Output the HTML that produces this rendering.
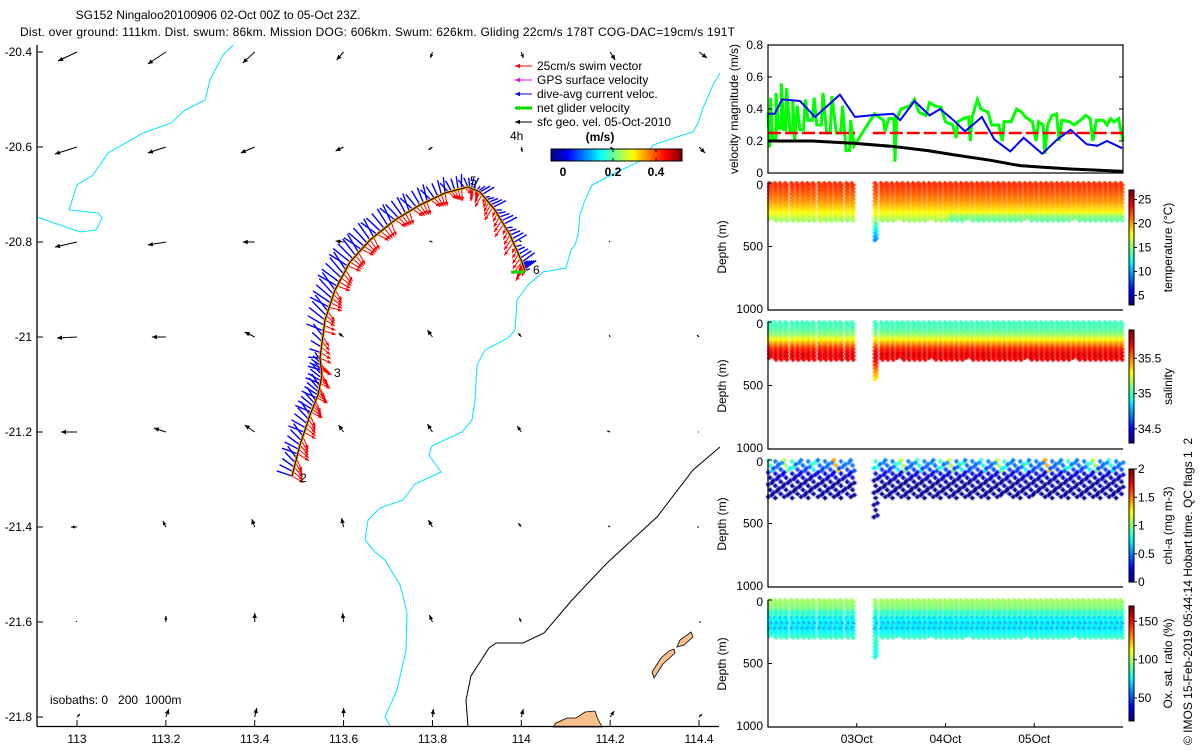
<!DOCTYPE html>
<html><head><meta charset="utf-8"><style>
body{margin:0;background:#fff;width:1200px;height:750px;overflow:hidden;position:relative;font-family:"Liberation Sans",sans-serif}
svg{position:absolute;left:0;top:0}
canvas{position:absolute;left:0;top:0}
text{font-family:"Liberation Sans",sans-serif;font-size:12px;fill:#000}
</style></head><body>
<canvas id="sc" width="1200" height="750"></canvas>
<svg id="s" width="1200" height="750">
<text x="218" y="19" text-anchor="middle">SG152 Ningaloo20100906 02-Oct 00Z to 05-Oct 23Z.</text>
<text x="20" y="36" textLength="715">Dist. over ground: 111km. Dist. swum: 86km. Mission DOG: 606km. Swum: 626km. Gliding 22cm/s 178T COG-DAC=19cm/s 191T</text>
<text x="50" y="704" xml:space="preserve">isobaths: 0   200  1000m</text>
<text transform="translate(1192,745) rotate(-90)" xml:space="preserve">© IMOS 15-Feb-2019 05:44:14 Hobart time. QC flags 1  2</text>
</svg>
<script>
// ---------- map data ----------
const gridLons=[113,113.2,113.4,113.6,113.8,114,114.2,114.4];
const gridLats=[-20.4,-20.6,-20.8,-21.0,-21.2,-21.4,-21.6,-21.8];
const geoU=[[-19,-18,-12,-7,-2,2,5,8],[-22,-18,-14,-8,-4,1,3,6],[-22,-18,-12,-8,-3,-2,-1,0],[-20,-14,-10,-5,-5,-3,-1,-2],[-16,-12,-10,-5,-5,-4,-3,-1],[-6,-3,-3,-2,-4,-3,-2,-2],[-1,0,0,-1,-3,-2,0,2],[3,3,2,0,1,2,4,3]];
const geoV=[[9,12,11,8,6,6,8,6],[7,6,6,4,3,5,2,6],[5,3,0,-1,-1,-2,-1,0],[1,0,-5,-4,-7,-4,-2,-2],[0,-4,-7,-7,-8,-6,-1,0],[0,-6,-8,-9,-7,-4,-1,0],[-1,-6,-9,-9,-7,-4,0,0],[-3,-8,-9,-9,-8,-8,-6,-3]];
const xTicks=[113,113.2,113.4,113.6,113.8,114,114.2,114.4];
const yTicks=[-20.4,-20.6,-20.8,-21,-21.2,-21.4,-21.6,-21.8];
function X(lon){return 77+(lon-113)*444.3;}
function Y(lat){return 52+(-20.4-lat)*475;}
function LON(x){return 113+(x-77)/444.3;}
function LAT(y){return -20.4-(y-52)/475;}
const coast1=[[233,45],[223,55],[210,80],[205,100],[185,110],[171,123],[143,133],[108,153],[93,175],[77,185],[69,210],[98,213],[102,218],[96,230],[80,232],[37,217]].map(p=>[LON(p[0]),LAT(p[1])]);
const coast2=[[720,73],[713,85],[703,108],[698,123],[693,132],[683,135],[653,145],[642,160],[617,172],[592,185],[585,200],[580,215],[578,235],[575,245],[571,250],[566,268],[543,272],[528,285],[517,300],[515,330],[508,338],[485,350],[477,365],[475,400],[472,420],[462,432],[432,446],[429,455],[441,472],[415,484],[403,500],[380,508],[368,520],[365,540],[375,552],[385,560],[400,585],[404,600],[407,614],[406,650],[397,690],[385,717],[391,727]].map(p=>[LON(p[0]),LAT(p[1])]);
const iso1000=[[720,447],[693,470],[657,517],[607,563],[572,600],[544,633],[523,643],[496,643],[489,648],[471,676],[466,700],[468,726]].map(p=>[LON(p[0]),LAT(p[1])]);
const islands=[
 [[691,632],[693,637],[684,645],[677,647],[680,640]],
 [[674,649],[675,653],[663,664],[654,678],[652,672],[661,658],[669,651]],
 [[553,727],[556,723],[567,718],[576,718],[585,712],[595,711],[597,717],[602,727]]
].map(a=>a.map(p=>[LON(p[0]),LAT(p[1])]));
const trackPx=[[292,476],[300,445],[310,415],[318,395],[322,375],[320,358],[325,320],[335,290],[350,262],[370,240],[395,220],[420,205],[445,193],[468,187],[480,192],[495,210],[510,235],[522,262],[525,272]];
const trackLon=trackPx.map(p=>LON(p[0]));
const trackLat=trackPx.map(p=>LAT(p[1]));
const curU=[-0.28,-0.3,-0.3,-0.28,-0.26,-0.2,-0.38,-0.38,-0.36,-0.32,-0.28,-0.2,-0.12,-0.06,0.2,0.24,0.24,0.22,0.2];
const curV=[-0.2,-0.22,-0.24,-0.24,-0.2,-0.1,-0.3,-0.34,-0.36,-0.36,-0.36,-0.34,-0.3,-0.26,-0.1,-0.08,-0.1,-0.14,-0.12];
const swimU=[0.22,0.22,0.22,0.2,0.18,0.22,0.26,0.26,0.26,0.24,0.2,0.18,0.14,0.1,-0.1,-0.14,-0.16,-0.16,-0.14];
const swimV=[0.26,0.26,0.24,0.22,0.2,0.22,0.16,0.2,0.22,0.24,0.26,0.26,0.26,0.24,0.24,0.26,0.26,0.24,0.22];

// ---------- time series data ----------
const blueT=[0,0.075,0.16,0.36,0.53,0.81,0.98,1.15,1.41,1.49,1.65,1.82,1.94,2.09,2.22,2.41,2.55,2.73,2.88,3.09,3.26,3.41,3.59,3.71,3.82,3.99];
const blueV=[0.37,0.37,0.46,0.45,0.35,0.49,0.35,0.36,0.37,0.33,0.45,0.36,0.40,0.33,0.26,0.35,0.21,0.135,0.22,0.12,0.21,0.27,0.18,0.17,0.20,0.155];
const blackT=[0,0.5,0.98,1.41,1.8,2.09,2.5,2.84,3.1,3.41,3.7,4.0];
const blackV=[0.2,0.2,0.185,0.166,0.14,0.114,0.08,0.046,0.036,0.025,0.018,0.01];
const greenT=[0,0.02,0.03,0.05,0.09,0.09,0.12,0.15,0.15,0.18,0.2,0.21,0.25,0.28,0.28,0.3,0.33,0.36,0.4,0.42,0.45,0.5,0.52,0.55,0.6,0.62,0.66,0.7,0.72,0.77,0.82,0.84,0.88,0.92,0.93,0.97,1.2,1.22,1.3,1.32,1.36,1.42,1.43,1.45,1.5,1.6,1.65,1.7,1.78,1.82,1.88,1.95,2.0,2.08,2.12,2.14,2.2,2.26,2.28,2.3,2.36,2.4,2.48,2.52,2.6,2.64,2.66,2.74,2.8,2.86,2.9,2.98,3.02,3.05,3.1,3.12,3.15,3.2,3.25,3.28,3.31,3.4,3.45,3.52,3.58,3.63,3.66,3.7,3.78,3.82,3.86,3.9,3.95,4.0];
const greenV=[0.38,0.16,0.47,0.21,0.21,0.5,0.28,0.28,0.56,0.27,0.27,0.53,0.25,0.25,0.45,0.2,0.42,0.27,0.27,0.46,0.33,0.33,0.47,0.3,0.3,0.5,0.25,0.25,0.48,0.25,0.25,0.42,0.14,0.14,0.33,0.17,0.37,0.36,0.33,0.26,0.34,0.34,0.07,0.34,0.4,0.42,0.46,0.38,0.36,0.44,0.42,0.41,0.32,0.3,0.22,0.32,0.34,0.35,0.2,0.35,0.46,0.4,0.38,0.3,0.3,0.2,0.32,0.32,0.4,0.38,0.35,0.32,0.2,0.32,0.3,0.12,0.3,0.36,0.37,0.2,0.33,0.32,0.3,0.33,0.36,0.34,0.2,0.33,0.33,0.3,0.34,0.32,0.34,0.2];
const swimSpeed=0.25;
const velTicks=[0,0.2,0.4,0.6,0.8];
const dateTicks=[1,2,3];
const dateLabels=["03Oct","04Oct","05Oct"];

// ---------- profile data ----------
const diveT=[0.02,0.08,0.14,0.2,0.27,0.33,0.39,0.45,0.51,0.58,0.64,0.70,0.76,0.82,0.89,0.95,1.21,1.28,1.34,1.40,1.46,1.52,1.58,1.64,1.70,1.76,1.82,1.88,1.94,2.0,2.06,2.12,2.18,2.24,2.30,2.36,2.42,2.48,2.54,2.60,2.66,2.72,2.78,2.84,2.90,2.96,3.02,3.08,3.14,3.20,3.26,3.32,3.38,3.44,3.50,3.56,3.62,3.68,3.74,3.80,3.86,3.92,3.98];
const diveMax=[290,300,295,300,300,295,300,300,295,300,300,300,295,300,300,300,460,300,295,300,290,300,300,295,300,300,290,300,300,295,300,300,300,290,300,300,295,300,300,300,295,300,300,300,290,300,295,300,300,300,295,300,300,290,300,300,295,300,300,300,295,300,300];
const profDepth=[0,50,100,150,200,250,300,350,400,460];
const tempProf=[23,22.5,21.5,20.5,19,17.5,15.5,13,11,9];
const salProf=[35.0,35.02,35.12,35.35,35.6,35.75,35.72,35.6,35.45,35.3];
const oxProf=[100,97,88,78,74,76,86,82,80,78];
const chlProf=[0.5,0.45,0.2,0.06,0.05,0.05,0.04,0.04,0.04,0.04];
const tempRange=[3,27], salRange=[34.3,35.9], chlRange=[0,2], oxRange=[20,170];

// ---------- helpers ----------
const S=document.getElementById('s');
const NS='http://www.w3.org/2000/svg';
function el(tag,attrs,parent){const e=document.createElementNS(NS,tag);for(const k in attrs)e.setAttribute(k,attrs[k]);(parent||S).appendChild(e);return e;}
function jet(v){v=Math.max(0,Math.min(1,v));const r=Math.max(0,Math.min(1,1.5-Math.abs(4*v-3))),g=Math.max(0,Math.min(1,1.5-Math.abs(4*v-2))),b=Math.max(0,Math.min(1,1.5-Math.abs(4*v-1)));return `rgb(${Math.round(r*255)},${Math.round(g*255)},${Math.round(b*255)})`;}
function interp(xs,ys,x){if(x<=xs[0])return ys[0];for(let i=1;i<xs.length;i++){if(x<=xs[i]){const f=(x-xs[i-1])/(xs[i]-xs[i-1]);return ys[i-1]+f*(ys[i]-ys[i-1]);}}return ys[ys.length-1];}
function pts(arr){return arr.map(p=>X(p[0]).toFixed(1)+','+Y(p[1]).toFixed(1)).join(' ');}

// ---------- map ----------
const mapG=el('g',{});


let e=el('polyline',{points:pts(coast1),fill:'none',stroke:'#00e5ff','stroke-width':1},mapG);

e=el('polyline',{points:pts(coast2),fill:'none',stroke:'#00e5ff','stroke-width':1},mapG);

e=el('polyline',{points:pts(iso1000),fill:'none',stroke:'#000','stroke-width':1},mapG);

islands.forEach(a=>{const p=el('polygon',{points:pts(a),fill:'#f8c08c',stroke:'#000','stroke-width':0.8},mapG);
});
function arrow(x1,y1,x2,y2,col,w,hs,parent){
  const l=el('line',{x1:x1,y1:y1,x2:x2,y2:y2,stroke:col,'stroke-width':w},parent);
  const dx=x2-x1,dy=y2-y1,L=Math.hypot(dx,dy)||1,ux=dx/L,uy=dy/L;
  const h=Math.min(hs,L*0.6);
  el('polygon',{points:`${x2},${y2} ${x2-ux*h-uy*h*0.45},${y2-uy*h+ux*h*0.45} ${x2-ux*h+uy*h*0.45},${y2-uy*h-ux*h*0.45}`,fill:col},parent);
  return l;
}
for(let r=0;r<gridLats.length;r++)for(let c=0;c<gridLons.length;c++){
  const x=X(gridLons[c]),y=Y(gridLats[r]);
  const g=el('g',{},mapG);
  
  
  arrow(x,y,x+geoU[r][c],y+geoV[r][c],'#000',1,5,g);
}
const trkG=el('g',{},mapG);


const SC=42;
for(let i=0;i<trackLon.length-1;i++){
  for(let k=0;k<7;k++){
    const f=k/7;
    const lon=trackLon[i]+f*(trackLon[i+1]-trackLon[i]), lat=trackLat[i]+f*(trackLat[i+1]-trackLat[i]);
    const x=X(lon),y=Y(lat);
    const cu=curU[i]+f*(curU[i+1]-curU[i]), cv=curV[i]+f*(curV[i+1]-curV[i]);
    const su=swimU[i]+f*(swimU[i+1]-swimU[i]), sv=swimV[i]+f*(swimV[i+1]-swimV[i]);
    const j=((i*7+k)%5-2)*0.04;
    const b=el('line',{x1:x,y1:y,x2:x+(cu+j)*SC,y2:y+(cv-j)*SC,stroke:'#0000ff','stroke-width':1.4},trkG);
    
    const a=arrow(x,y,x+(su-j)*SC*0.9,y+(sv+j)*SC*0.9,'#ff0000',1,4,trkG);
    
  }
}
e=el('polyline',{points:trackLon.map((l,i)=>X(l)+','+Y(trackLat[i])).join(' '),fill:'none',stroke:'#ffa500','stroke-width':3},trkG);

e=el('polyline',{points:trackLon.map((l,i)=>X(l)+','+Y(trackLat[i])).join(' '),fill:'none',stroke:'#000','stroke-width':1},trkG);

e=el('line',{x1:X(trackLon[18])-14,y1:Y(trackLat[18]),x2:X(trackLon[18]),y2:Y(trackLat[18]),stroke:'#00dd00','stroke-width':3},trkG);

[['2',0,8,6],['3',4,12,2],['5',13,2,-2],['6',18,8,2]].forEach(m=>{
  const t=el('text',{x:X(trackLon[m[1]])+m[2],y:Y(trackLat[m[1]])+m[3]},trkG);t.textContent=m[0];
  
});
e=el('line',{x1:37,y1:45,x2:37,y2:726.5,stroke:'#000','stroke-width':1.3},mapG);

e=el('line',{x1:37,y1:726.5,x2:719,y2:726.5,stroke:'#000','stroke-width':1.3},mapG);

xTicks.forEach(v=>{const x=X(v);el('line',{x1:x,y1:726,x2:x,y2:720,stroke:'#000'},mapG);
 const t=el('text',{x:x,y:743,'text-anchor':'middle'},mapG);t.textContent=String(v);
 });
yTicks.forEach(v=>{const y=Y(v);el('line',{x1:37,y1:y,x2:43,y2:y,stroke:'#000'},mapG);
 const t=el('text',{x:32,y:y+4,'text-anchor':'end'},mapG);t.textContent=String(v);
 });
const lg=el('g',{},mapG);

const legItems=[['25cm/s swim vector','#ff0000',1],['GPS surface velocity','#ff00ff',1],['dive-avg current veloc.','#0000ff',1],['net glider velocity','#00dd00',3],['sfc geo. vel. 05-Oct-2010','#000',1]];
legItems.forEach((it,i)=>{const y=70+i*14;
 arrow(532,y-4,515,y-4,it[1],it[2],5,lg);
 const t=el('text',{x:537,y:y},lg);t.textContent=it[0];
 });
e=el('text',{x:510,y:140},lg);e.textContent='4h';
e=el('text',{x:600,y:141,'font-weight':'bold','text-anchor':'middle'},lg);e.textContent='(m/s)';

for(let i=0;i<64;i++){el('rect',{x:551+i*131/64,y:149,width:131/64+0.3,height:12,fill:jet(i/63)},lg);}
el('rect',{x:551,y:149,width:131,height:12,fill:'none',stroke:'#000'},lg);
[['0',563],['0.2',613],['0.4',656]].forEach(p=>{el('line',{x1:p[1],y1:149,x2:p[1],y2:152,stroke:'#000'},lg);el('line',{x1:p[1],y1:161,x2:p[1],y2:158,stroke:'#000'},lg);
 const t=el('text',{x:p[1],y:176,'text-anchor':'middle','font-weight':'bold'},lg);t.textContent=p[0];
 });

// ---------- velocity panel ----------
const PX0=768,PX1=1123;
function TX(t){return PX0+t/4*(PX1-PX0);}
function VY(v){return 173-v/0.8*128;}
const vg=el('g',{});

e=el('polyline',{points:greenT.map((t,i)=>TX(t)+','+VY(greenV[i])).join(' '),fill:'none',stroke:'#00ff00','stroke-width':3},vg);

e=el('line',{x1:TX(0),y1:VY(swimSpeed),x2:TX(0.98),y2:VY(swimSpeed),stroke:'#ff0000','stroke-width':2.5,'stroke-dasharray':'13,4'},vg);

e=el('line',{x1:TX(1.18),y1:VY(swimSpeed),x2:TX(4),y2:VY(swimSpeed),stroke:'#ff0000','stroke-width':2.5,'stroke-dasharray':'13,4'},vg);

e=el('polyline',{points:blackT.map((t,i)=>TX(t)+','+VY(blackV[i])).join(' '),fill:'none',stroke:'#000','stroke-width':3},vg);

e=el('polyline',{points:blueT.map((t,i)=>TX(t)+','+VY(blueV[i])).join(' '),fill:'none',stroke:'#0000ff','stroke-width':2},vg);

el('rect',{x:PX0,y:45,width:PX1-PX0,height:128,fill:'none',stroke:'#000','stroke-width':1.2},vg);
velTicks.forEach(v=>{const y=VY(v);el('line',{x1:PX0,y1:y,x2:PX0+4,y2:y,stroke:'#000'},vg);el('line',{x1:PX1,y1:y,x2:PX1-4,y2:y,stroke:'#000'},vg);
 const t=el('text',{x:763,y:y+4,'text-anchor':'end'},vg);t.textContent=String(v);
 });
e=el('text',{transform:'translate(738,109) rotate(-90)','text-anchor':'middle'},vg);e.textContent='velocity magnitude (m/s)';


// ---------- profile panels ----------
const ctx=document.getElementById('sc').getContext('2d');
const panels=[
 {top:183,prof:tempProf,range:tempRange,label:'temperature (°C)',ticks:[5,10,15,20,25],cb:[190,305],name:'temperature',step:14},
 {top:322,prof:salProf,range:salRange,label:'salinity',ticks:[34.5,35,35.5],cb:[330,443],name:'salinity',step:14},
 {top:460,prof:chlProf,range:chlRange,label:'chl-a (mg m-3)',ticks:[0,0.5,1,1.5,2],cb:[469,582],name:'chlorophyll',step:32},
 {top:600,prof:oxProf,range:oxRange,label:'Ox. sat. ratio (%)',ticks:[50,100,150],cb:[606,721],name:'oxygen',step:14}
];
function plus(x,y,c){ctx.fillStyle=c;ctx.fillRect(x-2,y-0.75,4.5,2);ctx.fillRect(x-0.75,y-2,2,4.5);}
panels.forEach((p,pi)=>{
  const DY=d=>p.top+d/1000*127;
  diveT.forEach((t,di)=>{
    const x=TX(t);
    let n=0;
    for(let d=0;d<=diveMax[di];d+=p.step,n++){
      let v=interp(profDepth,p.prof,d);
      if(pi===0&&di>=30&&d>250)v-=1.5;
      if(pi===2&&d<90&&(di%4===0))v+=0.35;
      if(pi===2&&d<90&&(di%9===3))v+=0.6;
      if(pi===3&&d>80&&d<240&&(n%3===1))v-=10;
      let dd=d, xo=(n%2?1:-1)*0.8;
      if(pi===2){dd=d+((di*7+n)%3)*9;xo=((di+n)%3-1)*1.8;if(dd>diveMax[di])continue;}
      plus(x+xo,DY(dd),jet((v-p.range[0])/(p.range[1]-p.range[0])));
    }
  });
  const g=el('g',{});
  
  el('polyline',{points:`${PX0},${p.top} ${PX0},${p.top+127} ${PX1},${p.top+127}`,fill:'none',stroke:'#000','stroke-width':1.2},g);
  [0,500,1000].forEach(d=>{const y=DY(d);el('line',{x1:PX0,y1:y,x2:PX0+4,y2:y,stroke:'#000'},g);
    const t=el('text',{x:763,y:y+(d===0?6:d===1000?3:4),'text-anchor':'end'},g);t.textContent=String(d);
    });
  const t=el('text',{transform:`translate(726,${p.top+64}) rotate(-90)`,'text-anchor':'middle'},g);t.textContent='Depth (m)';
  
  const cbg=el('g',{},g);
  
  const h=p.cb[1]-p.cb[0];
  for(let i=0;i<64;i++)el('rect',{x:1129,y:p.cb[1]-(i+1)*h/64,width:5,height:h/64+0.4,fill:jet(i/63)},cbg);
  el('rect',{x:1129,y:p.cb[0],width:5,height:h,fill:'none',stroke:'#000'},cbg);
  p.ticks.forEach(v=>{const y=p.cb[1]-(v-p.range[0])/(p.range[1]-p.range[0])*h;
    el('line',{x1:1134,y1:y,x2:1137,y2:y,stroke:'#000'},cbg);
    const tt=el('text',{x:1138,y:y+4},cbg);tt.textContent=String(v);
    });
  const lt=el('text',{transform:`translate(1172,${(p.cb[0]+p.cb[1])/2}) rotate(-90)`,'text-anchor':'middle'},cbg);lt.textContent=p.label;
  
});
dateTicks.forEach((d,i)=>{const x=TX(d);el('line',{x1:x,y1:727,x2:x,y2:723,stroke:'#000'});
 const t=el('text',{x:x,y:743,'text-anchor':'middle'});t.textContent=dateLabels[i];
 });
</script>
</body></html>
